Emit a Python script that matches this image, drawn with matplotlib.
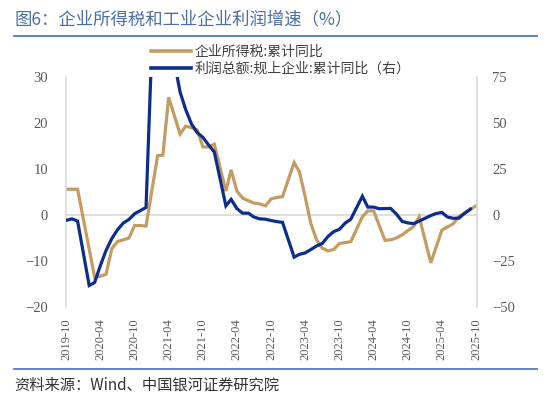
import numpy as np
import pandas as pd
import matplotlib
matplotlib.use("Agg")
import matplotlib.pyplot as plt
import matplotlib.dates as mdates
from matplotlib.lines import Line2D

plt.rcParams['font.family'] = ['Noto Sans CJK SC', 'DejaVu Sans']

# ---- data -------------------------------------------------------------
months = [m for m in pd.date_range('2019-10-01', '2025-10-01', freq='MS') if m.month != 1]

tax_yoy = [
    5.6, 5.6, 5.6,
    np.nan, -13.5, -13.3, -12.9, -7.3, -5.8, -5.4, -5.0, -2.3, -2.3, -2.4,
    12.9, 13.0, 25.6, np.nan, 17.6, 19.3, 19.0, 18.5, 14.8, 14.8, 15.4,
    5.2, 9.8, 5.2, 3.7, 3.1, 2.6, 2.4, 2.0, 3.5, 3.8, 4.0,
    11.4, 9.4, 4.0, -1.8, -5.4, -7.2, -7.8, -7.5, -6.2, -6.0, -5.8,
    -0.4, 0.9, 0.9, np.nan, -5.5, -5.4, -5.0, -4.3, -3.4, -2.5, -0.4,
    -10.4, np.nan, -3.3, -2.6, -1.9, -0.3, np.nan, np.nan, 2.0,
]
profit_yoy = [
    -2.9, -2.1, -3.3,
    -38.3, -36.7, -27.4, -19.3, -12.8, -8.1, -4.4, -2.4, 0.7, 2.4, 4.1,
    178.9, 137.3, 106.0, 83.4, 66.9, 57.3, 49.5, 44.7, 42.2, 38.0, 34.3,
    5.0, 8.5, 3.5, 1.0, 1.0, -1.1, -2.1, -2.3, -3.0, -3.6, -4.0,
    -22.9, -21.4, -20.6, -18.8, -16.8, -15.5, -11.7, -9.0, -7.8, -4.4, -2.3,
    10.2, 4.3, 4.3, 3.4, 3.5, 3.6, 0.5, -3.5, -4.3, -4.7, -3.3,
    -0.3, 0.8, 1.4, -1.1, -1.8, -1.7, 0.9, 3.2, np.nan,
]
tick_labels = ['2019-10', '2020-04', '2020-10', '2021-04', '2021-10', '2022-04',
               '2022-10', '2023-04', '2023-10', '2024-04', '2024-10', '2025-04', '2025-10']
left_ticks = [-20, -10, 0, 10, 20, 30]
right_ticks = [-50, -25, 0, 25, 50, 75]

series_names = ['企业所得税:累计同比', '利润总额:规上企业:累计同比（右）']
title = '图6：企业所得税和工业企业利润增速（%）'
source = '资料来源：Wind、中国银河证券研究院'

# ---- styles -----------------------------------------------------------
TAN = '#C49C62'
NAVY = '#0C2D8C'
GRID = '#D9D9D9'
TXT = '#595959'
BLUE_LINE = '#4F7CC4'

df = pd.DataFrame({'date': months, 'tax': tax_yoy, 'profit': profit_yoy})
tax = df.dropna(subset=['tax'])
prof = df.dropna(subset=['profit'])

fig = plt.figure(figsize=(5.5, 4.0), dpi=100)
ax = fig.add_axes([66/550, 1-307/400, (477-66)/550, (307-77)/400])
ax2 = ax.twinx()

ax.plot(tax['date'], tax['tax'], color=TAN, lw=2.3, solid_joinstyle='miter')
ax2.plot(prof['date'], prof['profit'], color=NAVY, lw=2.3, solid_joinstyle='miter')

ax.set_ylim(-20, 30)
ax2.set_ylim(-50, 75)
ax.set_yticks(left_ticks)
ax2.set_yticks(right_ticks)
ax.axhline(0, color=GRID, lw=1.2, zorder=0)

x0 = pd.Timestamp('2019-09-30')
x1 = pd.Timestamp('2025-10-06')
ax.set_xlim(x0, x1)
ticks = [pd.Timestamp(t + '-01') for t in tick_labels]
ax.set_xticks(ticks)
ax.set_xticklabels(tick_labels, rotation=90, fontsize=9, color=TXT)

for a in (ax, ax2):
    for s in a.spines.values():
        s.set_visible(False)
    a.tick_params(length=0)
ax.spines['left'].set_visible(True)
ax.spines['left'].set_color(GRID)
ax.spines['left'].set_linewidth(1.2)
ax2.spines['right'].set_visible(True)
ax2.spines['right'].set_color(GRID)
ax2.spines['right'].set_linewidth(1.2)

ax.tick_params(axis='y', labelsize=10.5, labelcolor=TXT, pad=13)
ax2.tick_params(axis='y', labelsize=10.5, labelcolor=TXT, pad=11)
ax.tick_params(axis='x', pad=8)
for lab in ax.get_yticklabels() + ax2.get_yticklabels():
    lab.set_fontfamily(['Liberation Serif', 'DejaVu Serif'])
for lab in ax.get_xticklabels():
    lab.set_fontfamily(['Liberation Serif', 'DejaVu Serif'])

handles = [Line2D([], [], color=TAN, lw=2.6), Line2D([], [], color=NAVY, lw=2.6)]
fig.legend(handles, series_names, loc='upper left', bbox_to_anchor=(141/550, 1-35/400),
           frameon=False, fontsize=10, handlelength=2.9, handletextpad=0.25,
           labelspacing=0.2, labelcolor='#404040', borderpad=0.2)

fig.text(14/550, 1-19/400, title, fontsize=12.5, color='#4A6FA8', va='center', ha='left')
fig.add_artist(Line2D([14/550, 537/550], [1-35.5/400]*2, color=BLUE_LINE, lw=1.3))
fig.add_artist(Line2D([14/550, 537/550], [1-369/400]*2, color=BLUE_LINE, lw=1.3))
fig.text(14/550, 1-385/400, source, fontsize=11, color='#333333', va='center', ha='left',
         style='italic')

fig.savefig('out.png', dpi=100)
